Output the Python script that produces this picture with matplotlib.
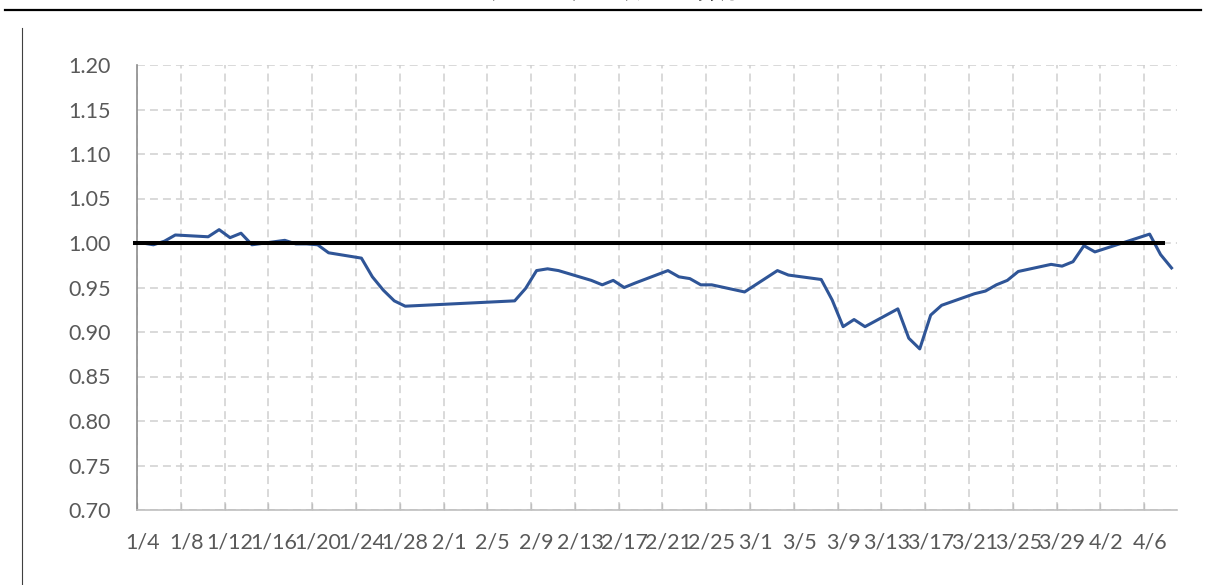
import matplotlib
matplotlib.use("Agg")
import matplotlib.pyplot as plt
from matplotlib.lines import Line2D
import pandas as pd
import numpy as np

# ---- data ----
dates = ["2022-01-04", "2022-01-05", "2022-01-06", "2022-01-07", "2022-01-10",
         "2022-01-11", "2022-01-12", "2022-01-13", "2022-01-14", "2022-01-17",
         "2022-01-18", "2022-01-19", "2022-01-20", "2022-01-21", "2022-01-24",
         "2022-01-25", "2022-01-26", "2022-01-27", "2022-01-28", "2022-02-07",
         "2022-02-08", "2022-02-09", "2022-02-10", "2022-02-11", "2022-02-14",
         "2022-02-15", "2022-02-16", "2022-02-17", "2022-02-18", "2022-02-21",
         "2022-02-22", "2022-02-23", "2022-02-24", "2022-02-25", "2022-02-28",
         "2022-03-01", "2022-03-02", "2022-03-03", "2022-03-04", "2022-03-07",
         "2022-03-08", "2022-03-09", "2022-03-10", "2022-03-11", "2022-03-14",
         "2022-03-15", "2022-03-16", "2022-03-17", "2022-03-18", "2022-03-21",
         "2022-03-22", "2022-03-23", "2022-03-24", "2022-03-25", "2022-03-28",
         "2022-03-29", "2022-03-30", "2022-03-31", "2022-04-01", "2022-04-06",
         "2022-04-07", "2022-04-08"]
values = [1.000, 0.998, 1.002, 1.009, 1.007,
          1.015, 1.006, 1.011, 0.998, 1.003,
          0.999, 0.999, 0.998, 0.989, 0.983,
          0.962, 0.947, 0.935, 0.929, 0.935,
          0.949, 0.969, 0.971, 0.969, 0.958,
          0.953, 0.958, 0.950, 0.955, 0.969,
          0.962, 0.960, 0.953, 0.953, 0.945,
          0.953, 0.961, 0.969, 0.964, 0.959,
          0.936, 0.906, 0.914, 0.906, 0.926,
          0.893, 0.881, 0.919, 0.930, 0.943,
          0.946, 0.953, 0.958, 0.968, 0.976,
          0.974, 0.979, 0.997, 0.990, 1.010,
          0.987, 0.972]
baseline = 1.0
axis_start = "2022-01-04"
axis_end = "2022-04-08"
label_step_days = 4
y_ticks = [0.70, 0.75, 0.80, 0.85, 0.90, 0.95, 1.00, 1.05, 1.10, 1.15, 1.20]
title = "图表1：今年以来指数相对收益率"

# ---- figure ----
W, H = 1206, 585
fig = plt.figure(figsize=(W / 100, H / 100), dpi=100)
ax = fig.add_axes([137 / W, 1 - 510 / H, (1177 - 137) / W, (510 - 65) / H])

start = pd.Timestamp(axis_start)
end = pd.Timestamp(axis_end)
ndays = (end - start).days + 1
dts = pd.to_datetime(dates)
x = np.array([(d - start).days + 0.5 for d in dts])

ax.plot(x, values, color="#2f5597", lw=2.2, solid_joinstyle="round", zorder=3)
ax.axhline(baseline, xmin=-0.002, xmax=0.9865, color="black", lw=2.9, zorder=4,
           clip_on=False)

ax.set_xlim(0, ndays)
ax.set_ylim(y_ticks[0], y_ticks[-1])

# x axis: gridlines/ticks at boundaries every 4 days, labels at day centres
major = np.arange(0, ndays, label_step_days)
ax.set_xticks(major)
ax.set_xticklabels([])
label_pos = major + 0.5
label_txt = [f"{(start + pd.Timedelta(days=int(i))).month}/{(start + pd.Timedelta(days=int(i))).day}"
             for i in major]
ax.set_xticks(label_pos, minor=True)
ax.set_xticklabels(label_txt, minor=True)

ax.set_yticks(y_ticks)
ax.set_yticklabels([f"{v:.2f}" for v in y_ticks])

font = "Lato"
ax.tick_params(axis="x", which="major", direction="in", length=5, color="#bfbfbf",
               width=1)
ax.tick_params(axis="x", which="minor", length=0, pad=16, labelsize=15.5,
               labelcolor="#595959")
ax.tick_params(axis="y", length=0, pad=19, labelsize=15.5, labelcolor="#595959")
for lab in ax.get_xticklabels(minor=True) + ax.get_yticklabels():
    lab.set_fontfamily(font)

ax.grid(True, which="major", color="#d0d0d0", lw=1.1, linestyle=(0, (5.2, 3.3)))
ax.set_axisbelow(True)

for s in ["top", "right"]:
    ax.spines[s].set_visible(False)
ax.spines["left"].set_color("#8c8c8c")
ax.spines["bottom"].set_color("#bfbfbf")
ax.spines["left"].set_linewidth(1.2)
ax.spines["bottom"].set_linewidth(1.2)

# decorative frame lines of the source page
fig.add_artist(Line2D([0.004, 0.996], [1 - 10 / H, 1 - 10 / H], color="black",
                      lw=1.6, transform=fig.transFigure))
fig.add_artist(Line2D([22 / W, 22 / W], [0, 1 - 28 / H], color="#404040",
                      lw=0.8, transform=fig.transFigure))

# title (cut off at the top of the image, as in the source)
fig.text(661 / W, 1 + 10 / H, title, ha="center", va="center", fontsize=20,
         fontweight="bold", family=["Noto Sans CJK SC", "DejaVu Sans"])

fig.savefig("out.png", dpi=100)
